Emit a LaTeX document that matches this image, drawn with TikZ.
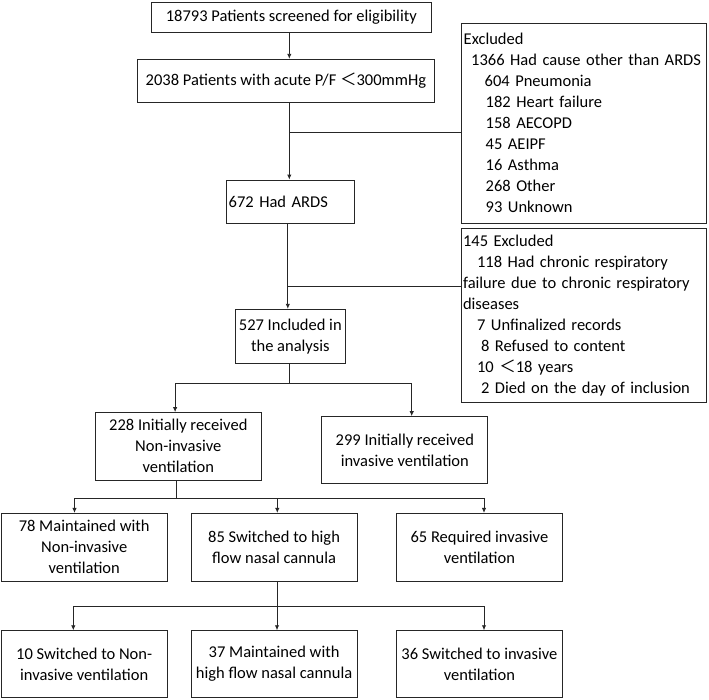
\documentclass[tikz,border=0pt]{standalone}
\usepackage{fontspec}
\setmainfont{Carlito}
\newfontfamily\cjk{Noto Sans CJK SC}
\usetikzlibrary{arrows.meta}

\begin{document}
\begin{tikzpicture}[x=1pt,y=-1pt,
  box/.style={draw=black!85,line width=0.9pt,inner sep=2pt,
    font=\fontsize{16.5}{21}\selectfont},
  cbox/.style={box,align=center},
  lbox/.style={box,align=left},
  link/.style={draw=black!85,line width=0.9pt},
  arr/.style={link,-{Latex[length=5pt,width=4.5pt]}}]
\useasboundingbox (0,0) rectangle (709,700);

\node[cbox,minimum width=279.3,minimum height=30] (screen) at (291.3,17)
  {18793 Patients screened for eligibility};
\node[cbox,minimum width=296.3,minimum height=43.4] (pf) at (285.9,81)
  {2038 Patients with acute P/F {\cjk ＜}300mmHg};
\node[lbox,text width=241,minimum height=200] (excl1) at (584.2,123.3)
  {Excluded\\
   \hspace*{7.5pt}1366 Had cause other than ARDS\\
   \hspace*{21pt}604 Pneumonia\\
   \hspace*{22pt}182 Heart failure\\
   \hspace*{22pt}158 AECOPD\\
   \hspace*{22pt}45 AEIPF\\
   \hspace*{22pt}16 Asthma\\
   \hspace*{22pt}268 Other\\
   \hspace*{22pt}93 Unknown};
\node[lbox,text width=123.6,minimum height=43.3] (ards) at (290.5,201.7)
  {672 Had ARDS};
\node[lbox,text width=241.7,minimum height=173.7] (excl2) at (583.9,315.2)
  {145 Excluded\\
   \hspace*{14pt}118 Had chronic respiratory\\
   failure due to chronic respiratory\\
   diseases\\
   \hspace*{14pt}7 Unfinalized records\\
   \hspace*{18pt}8 Refused to content\\
   \hspace*{14pt}10 {\cjk ＜}18 years\\
   \hspace*{18pt}2 Died on the day of inclusion};
\node[cbox,minimum width=110.7,minimum height=54] (incl) at (290.3,336.3)
  {527 Included in\\the analysis};
\node[cbox,minimum width=166.5,minimum height=67.5] (niv) at (178.3,446.3)
  {228 Initially received\\Non-invasive\\ventilation};
\node[cbox,minimum width=166,minimum height=66.8] (iv) at (404.8,450)
  {299 Initially received\\invasive ventilation};

\node[cbox,minimum width=166,minimum height=67.7] (nivkeep) at (84.2,547.2)
  {78 Maintained with\\Non-invasive\\ventilation};
\node[cbox,minimum width=166,minimum height=67.7] (hfnc) at (274.1,547.2)
  {85 Switched to high\\flow nasal cannula};
\node[cbox,minimum width=166,minimum height=67.7] (ivreq) at (479.4,547.2)
  {65 Required invasive\\ventilation};

\node[cbox,minimum width=166,minimum height=66.8] (toniv) at (84.2,664.1)
  {10 Switched to Non-\\invasive ventilation};
\node[cbox,minimum width=166,minimum height=66.8] (hfnckeep) at (274.1,664.1)
  {37 Maintained with\\high flow nasal cannula};
\node[cbox,minimum width=166,minimum height=66.8] (toiv) at (479.4,664.1)
  {36 Switched to invasive\\ventilation};

\coordinate (spine) at (289.3,132.7);
\draw[arr] (spine |- screen.south) -- (spine |- pf.north);
\draw[arr] (spine |- pf.south) -- (spine |- ards.north);
\draw[link] (spine) -- (spine -| excl1.west);

\coordinate (spine2) at (287.8,286.7);
\draw[arr] (spine2 |- ards.south) -- (spine2 |- incl.north);
\draw[link] (spine2) -- (spine2 -| excl2.west);

\coordinate (split) at (289.3,383.3);
\coordinate (splitl) at (175.1,383.3);
\coordinate (splitr) at (411.7,383.3);
\draw[link] (split |- incl.south) -- (split);
\draw[link] (splitl) -- (splitr);
\draw[arr] (splitl) -- (splitl |- niv.north);
\draw[arr] (splitr) -- (splitr |- iv.north);

\coordinate (fork) at (176.5,498.3);
\draw[link] (fork |- niv.south) -- (fork);
\draw[link] (74.5,498.3) -- (484,498.3);
\foreach \x/\n in {74.5/nivkeep,277.3/hfnc,484/ivreq}
  \draw[arr] (\x,498.3) -- (\x,0 |- \n.north);

\coordinate (fork2) at (277,606);
\draw[link] (fork2 |- hfnc.south) -- (fork2);
\draw[link] (73.3,606) -- (484,606);
\foreach \x/\n in {73.3/toniv,277/hfnckeep,484/toiv}
  \draw[arr] (\x,606) -- (\x,0 |- \n.north);
\end{tikzpicture}
\end{document}
